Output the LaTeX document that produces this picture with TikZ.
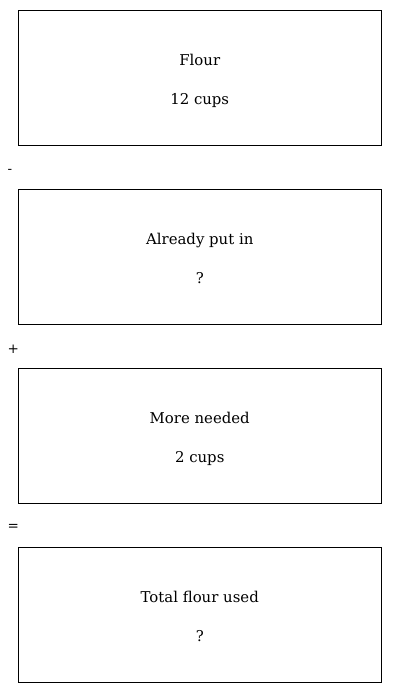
\documentclass[tikz,border=0pt]{standalone}
\usepackage{fontspec}
\setmainfont{DejaVu Serif}
\begin{document}
\begin{tikzpicture}[x=1pt,y=-1pt,
  box/.style={draw=black,line width=1pt,rectangle,minimum width=363pt,minimum height=134.5pt,inner sep=0pt},
  lbl/.style={font=\fontsize{14.9}{18}\selectfont,anchor=base,inner sep=0pt},
  op/.style={font=\fontsize{13.5}{16}\selectfont,anchor=west,inner sep=0pt}]
\useasboundingbox (0,0) rectangle (400,693);
\fill[white] (0,0) rectangle (400,693);
\foreach \i/\t/\a/\b in {0/A/Flour/12 cups,1/B/Already put in/?,2/C/More needed/2 cups,3/D/Total flour used/?}{
  \node[box] (\t) at (199.75,{10.5+179*\i+67.25}) {};
  \node[lbl] (\t1) at (199.75,{10.5+179*\i+55}) {\a};
  \node[lbl] (\t2) at (199.75,{10.5+179*\i+94}) {\b};
}
\node[op] (m) at (7.5,171) {-};
\node[op] (p) at (7.5,349) {+};
\node[op] (e) at (7.5,527.5) {=};
\end{tikzpicture}
\end{document}
